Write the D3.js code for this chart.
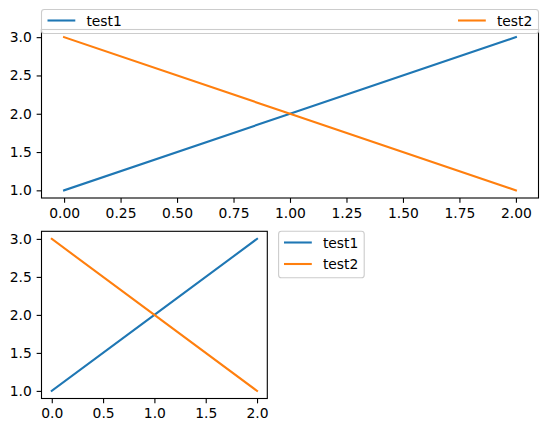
<!DOCTYPE html>
<html>
<head>
<meta charset="utf-8">
<script src="https://cdn.jsdelivr.net/npm/d3@7"></script>
<style>
  html, body { margin: 0; padding: 0; background: #fff; }
  svg { display: block; }
  text { font-family: "DejaVu Sans", sans-serif; }
</style>
</head>
<body>
<script>
// data
const xValues = [0, 1, 2];
const test1 = [1, 2, 3];
const test2 = [3, 2, 1];
const seriesNames = ["test1", "test2"];
const seriesColors = ["#1f77b4", "#ff7f0e"];
const topXTicks = [0, 0.25, 0.5, 0.75, 1, 1.25, 1.5, 1.75, 2];
const bottomXTicks = [0, 0.5, 1, 1.5, 2];
const yTicks = [1, 1.5, 2, 2.5, 3];

const W = 547, H = 433;
const fontSize = 13.89;
const tickLen = 4.86;
const lineW = 2.08;

const svg = d3.select("body").append("svg")
    .attr("width", W)
    .attr("height", H);

const series = [test1, test2].map((vals, i) => ({
    name: seriesNames[i],
    color: seriesColors[i],
    points: xValues.map((x, j) => ({ x, y: vals[j] }))
}));

// draw one axes panel, returns scales
function drawPanel(box, xTicks, xFmt) {
    const x = d3.scaleLinear().domain([-0.1, 2.1]).range([box.left, box.right]);
    const y = d3.scaleLinear().domain([0.9, 3.1]).range([box.bottom, box.top]);
    const g = svg.append("g");

    const line = d3.line().x(d => x(d.x)).y(d => y(d.y));
    g.selectAll(".series")
        .data(series)
        .enter().append("path")
        .attr("d", d => line(d.points))
        .attr("fill", "none")
        .attr("stroke", d => d.color)
        .attr("stroke-width", lineW)
        .attr("stroke-linecap", "square");

    const xAxis = g.append("g")
        .attr("transform", `translate(0,${box.bottom})`)
        .call(d3.axisBottom(x).tickValues(xTicks).tickFormat(d3.format(xFmt))
            .tickSize(tickLen).tickPadding(4.86));
    const yAxis = g.append("g")
        .attr("transform", `translate(${box.left},0)`)
        .call(d3.axisLeft(y).tickValues(yTicks).tickFormat(d3.format(".1f"))
            .tickSize(tickLen).tickPadding(4.86));

    [xAxis, yAxis].forEach(a => {
        a.select(".domain").remove();
        a.selectAll(".tick line").attr("stroke", "#000").attr("stroke-width", 1.1);
        a.selectAll(".tick text")
            .attr("fill", "#000")
            .style("font-size", fontSize + "px")
            .style("font-family", "DejaVu Sans, sans-serif");
    });

    // spines
    g.append("rect")
        .attr("x", box.left)
        .attr("y", box.top)
        .attr("width", box.right - box.left)
        .attr("height", box.bottom - box.top)
        .attr("fill", "none")
        .attr("stroke", "#000")
        .attr("stroke-width", 1.1);
    return { x, y };
}

// legend: entries positioned by layout mode
function drawLegend(frame, entries) {
    const g = svg.append("g");
    g.append("rect")
        .attr("x", frame.x)
        .attr("y", frame.y)
        .attr("width", frame.w)
        .attr("height", frame.h)
        .attr("rx", 2.8)
        .attr("fill", "rgba(255,255,255,0.8)")
        .attr("stroke", "#cccccc")
        .attr("stroke-width", 1.1);
    entries.forEach(e => {
        g.append("line")
            .attr("x1", e.x).attr("x2", e.x + 27.8)
            .attr("y1", e.y).attr("y2", e.y)
            .attr("stroke", e.color)
            .attr("stroke-width", lineW);
        g.append("text")
            .attr("x", e.x + 27.8 + 11.1)
            .attr("y", e.y)
            .attr("dy", "0.36em")
            .style("font-size", fontSize + "px")
            .text(e.name);
    });
}

const topBox = { left: 41.5, right: 538.5, top: 29.5, bottom: 198 };
const botBox = { left: 41.5, right: 267.3, top: 231.3, bottom: 398.5 };

drawPanel(topBox, topXTicks, ".2f");
drawPanel(botBox, bottomXTicks, ".1f");

// top legend, expanded across the axes width
drawLegend({ x: topBox.left, y: 9.5, w: topBox.right - topBox.left, h: 24 }, [
    { name: series[0].name, color: series[0].color, x: 47.5, y: 20.5 },
    { name: series[1].name, color: series[1].color, x: 458, y: 20.5 }
]);

// bottom legend, outside to the right
drawLegend({ x: 278.6, y: botBox.top, w: 85.6, h: 46.5 }, [
    { name: series[0].name, color: series[0].color, x: 284, y: 242.5 },
    { name: series[1].name, color: series[1].color, x: 284, y: 264 }
]);
</script>
</body>
</html>
